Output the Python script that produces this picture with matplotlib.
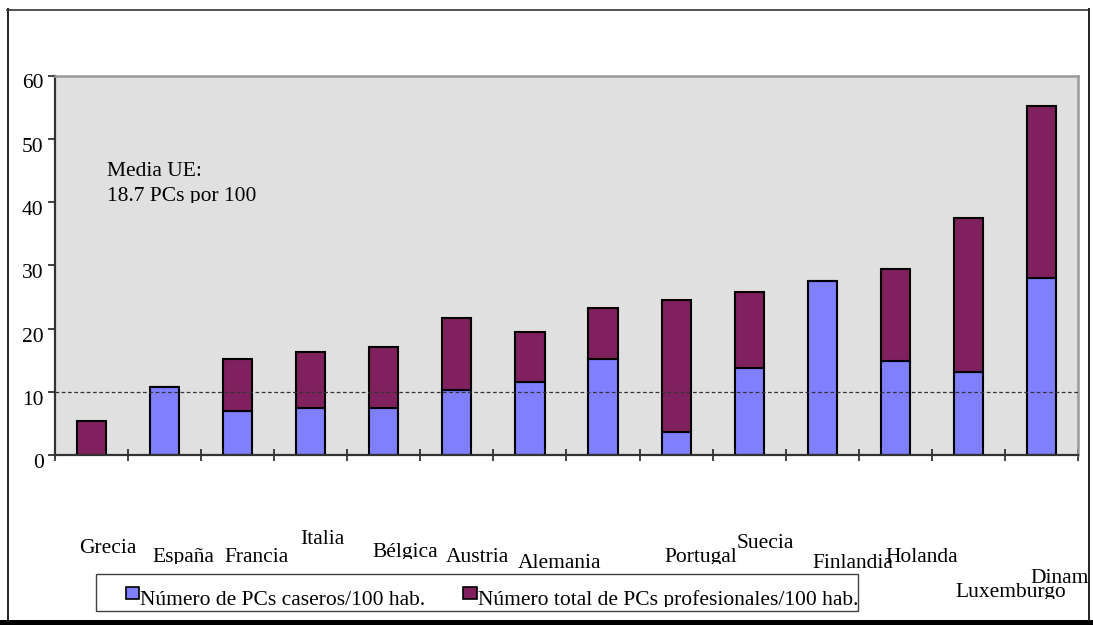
import numpy as np
import matplotlib
matplotlib.use("Agg")
import matplotlib.pyplot as plt
from matplotlib.patches import Rectangle
from matplotlib.lines import Line2D
from matplotlib.transforms import Bbox, ScaledTranslation

plt.rcParams['font.family'] = ['Liberation Serif', 'DejaVu Serif']

# PCs per 100 inhabitants, one bar per country (the 8th bar carries no label)
caseros = [0.0, 10.7, 6.9, 7.4, 7.5, 10.3, 11.5, 15.1, 3.6, 13.7, 27.5, 14.9, 13.1, 28.0]
profesionales = [5.4, 0.0, 8.2, 8.9, 9.6, 11.3, 8.0, 8.1, 20.9, 12.1, 0.0, 14.5, 24.3, 27.1]
referencia = 10

paises = ['Grecia', 'España', 'Francia', 'Italia', 'Bélgica', 'Austria', 'Alemania',
          'Portugal', 'Suecia', 'Finlandia', 'Holanda', 'Luxemburgo', 'Dinamarca']
yticks = [0, 10, 20, 30, 40, 50, 60]
serie_labels = ['Número de PCs caseros/100 hab.',
                'Número total de PCs profesionales/100 hab.']
nota = ['Media UE:', '18.7 PCs por 100']

# label placement in pixels: (left edge, baseline from top)
pos_paises = [(79, 553), (152.5, 562), (224.5, 562), (300, 543.5), (372, 557.5),
              (445.5, 562), (517.5, 568), (664, 562), (737, 548), (812, 568),
              (885, 562), (955, 597), (1030, 583)]

W, H = 1093, 625
AZUL = '#8080ff'
MORADO = '#80205f'
FS = 15.5

fig = plt.figure(figsize=(W / 100, H / 100), dpi=100)


def px_text(x, y, s, clip=True, **kw):
    """Text with its baseline at pixel (x, y) from top-left; descenders cut off."""
    t = fig.text(x / W, 1 - y / H, s, ha='left', va='baseline', fontsize=FS,
                 color='black', **kw)
    if clip:
        t.set_clip_box(Bbox([[8, H - y - 1.5], [1088, H - 10]]))
        t.set_clip_on(True)
    return t


def px_rect(x0, y0, x1, y1, **kw):
    r = Rectangle((x0 / W, 1 - y1 / H), (x1 - x0) / W, (y1 - y0) / H,
                  transform=fig.transFigure, **kw)
    fig.add_artist(r)
    return r


def px_line(xs, ys, **kw):
    fig.add_artist(Line2D([x / W for x in xs], [1 - y / H for y in ys],
                          transform=fig.transFigure, **kw))


ax = fig.add_axes([54.7 / W, (H - 455) / H, (1078.3 - 54.7) / W, (455 - 75.5) / H])
ax.set_facecolor('#e0e0e0')

x = np.arange(len(caseros))
ax.bar(x, caseros, width=0.4, color=AZUL, edgecolor='black', linewidth=1.5, zorder=2)
ax.bar(x, profesionales, bottom=caseros, width=0.4, color=MORADO,
       edgecolor='black', linewidth=1.5, zorder=2)
ax.axhline(referencia, color='#333333', lw=0.9, ls=(0, (3, 2)), zorder=3, clip_on=False)

ax.set_xlim(-0.5, len(caseros) - 0.5)
ax.set_ylim(0, 60)
ax.set_xticks(np.arange(-0.5, len(caseros)))
ax.set_xticklabels([])
ax.set_yticks(yticks)
ax.set_yticklabels([str(v) for v in yticks], fontsize=FS)
ax.tick_params(axis='x', direction='inout', length=9, width=1.2, color='#222222')
ax.tick_params(axis='y', direction='out', length=5, width=1.2, color='#222222', pad=3)
shift = ScaledTranslation(0, -6 / 100, fig.dpi_scale_trans)
for lab in ax.get_yticklabels():
    lab.set_transform(lab.get_transform() + shift)

for side in ('left', 'bottom'):
    ax.spines[side].set_color('#333333')
    ax.spines[side].set_linewidth(1.6)
for side in ('top', 'right'):
    ax.spines[side].set_color('#999999')
    ax.spines[side].set_linewidth(1.8)

# note inside the plot area
px_text(107, 176, nota[0])
px_text(107, 201.5, nota[1])

# category names, staggered below the axis
for name, (lx, ly) in zip(paises, pos_paises):
    px_text(lx, ly, name)

# legend box
px_rect(95.5, 574, 858, 611, facecolor='white', edgecolor='#404040', lw=1.0, zorder=1)
px_rect(125.5, 587, 139, 599, facecolor=AZUL, edgecolor='black', lw=1.2, zorder=2)
px_rect(463, 587, 476.5, 599, facecolor=MORADO, edgecolor='black', lw=1.2, zorder=2)
px_text(140.5, 605, serie_labels[0])
px_text(478, 605, serie_labels[1])

# outer frame
px_line([7.5, 7.5], [9, 620], color='#222222', lw=1.4)
px_line([7, 1088.5], [9.5, 9.5], color='#333333', lw=1.2)
px_line([1088.5, 1088.5], [9, 620], color='#222222', lw=1.4)
px_rect(0, 619.5, W, H + 1, facecolor='black', edgecolor='none')

fig.savefig('out.png', dpi=100)
